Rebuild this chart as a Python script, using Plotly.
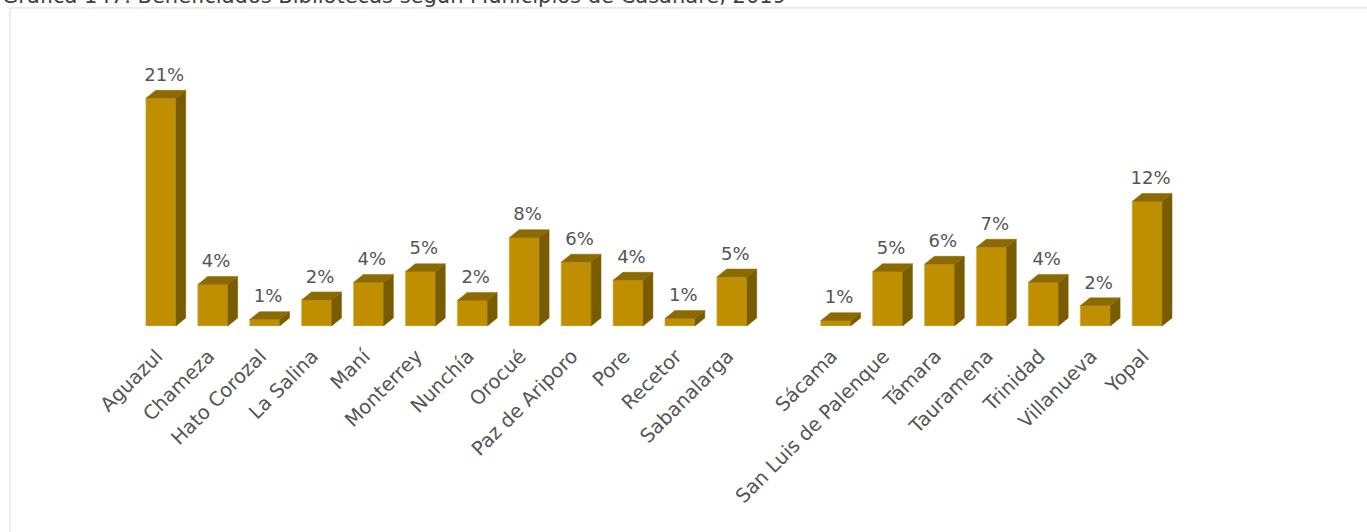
import plotly.graph_objects as go

categories = ["Aguazul", "Chameza", "Hato Corozal", "La Salina", "Maní", "Monterrey",
              "Nunchía", "Orocué", "Paz de Ariporo", "Pore", "Recetor", "Sabanalarga",
              "", "Sácama", "San Luis de Palenque", "Támara", "Tauramena", "Trinidad",
              "Villanueva", "Yopal"]
values = [21.4, 3.9, 0.6, 2.45, 4.1, 5.1, 2.4, 8.3, 6.0, 4.3, 0.7, 4.6,
          None, 0.5, 5.1, 5.8, 7.4, 4.1, 1.9, 11.7]
labels = ["21%", "4%", "1%", "2%", "4%", "5%", "2%", "8%", "6%", "4%", "1%", "5%",
          "", "1%", "5%", "6%", "7%", "4%", "2%", "12%"]
title = "Gráfica 147. Beneficiados Bibliotecas según Municipios de Casanare, 2019"

FRONT = "#BF8F00"
SIDE = "#7A5C00"
TOP = "#8C6A00"
FONT = "DejaVu Sans"
TXT = "#555555"

W = 0.578   # front face width (category units)
DX = 0.19   # depth offset x (category units)
DY = 0.75   # depth offset y (value units)

xs = list(range(len(categories)))
bx, bv = [], []
side_x, side_y, top_x, top_y = [], [], [], []
lab_x, lab_y, lab_t = [], [], []
for i, v in enumerate(values):
    if v is None:
        continue
    bx.append(i); bv.append(v)
    r = i + W / 2
    l = i - W / 2
    side_x += [r, r + DX, r + DX, r, r, None]
    side_y += [0, DY, v + DY, v, 0, None]
    top_x += [l, l + DX, r + DX, r, l, None]
    top_y += [v, v + DY, v + DY, v, v, None]
    lab_x.append(i + DX / 2 - 0.03)
    lab_y.append(v + DY + 0.45)
    lab_t.append(labels[i])

fig = go.Figure()
fig.add_trace(go.Bar(x=bx, y=bv, width=W, marker=dict(color=FRONT, line=dict(color="#D9B64A", width=0.6)),
                     hoverinfo="skip"))
fig.add_trace(go.Scatter(x=side_x, y=side_y, fill="toself", fillcolor=SIDE, mode="lines",
                         line=dict(color=SIDE, width=0.5), hoverinfo="skip"))
fig.add_trace(go.Scatter(x=top_x, y=top_y, fill="toself", fillcolor=TOP, mode="lines",
                         line=dict(color=TOP, width=0.5), hoverinfo="skip"))
fig.add_trace(go.Scatter(x=lab_x, y=lab_y, mode="text", text=lab_t, textposition="top center",
                         textfont=dict(family=FONT, size=18, color=TXT), hoverinfo="skip"))

L, T, B = 83, 60, 206.3
PW = 1367 - L - 142
PH = 532 - T - B

fig.update_layout(
    width=1367, height=532,
    margin=dict(l=L, r=142, t=T, b=B),
    paper_bgcolor="white", plot_bgcolor="white",
    showlegend=False,
    xaxis=dict(range=[-1.5, 20.5], tickmode="array", tickvals=xs, ticktext=categories,
               tickangle=-45, showgrid=False, zeroline=False, showline=False, ticks="",
               ticklabelstandoff=14, ticklabelshift=-4,
               tickfont=dict(family=FONT, size=19.5, color=TXT)),
    yaxis=dict(range=[0, 25], showgrid=False, zeroline=False, showline=False,
               showticklabels=False, ticks=""),
    shapes=[dict(type="rect", xref="paper", yref="paper",
                 x0=(10 - L) / PW, x1=1.3, y0=-1.0, y1=(532 - B - 8) / PH,
                 line=dict(color="#D9D9D9", width=1), fillcolor="rgba(0,0,0,0)", layer="below")],
    annotations=[dict(text=title, xref="paper", yref="paper", x=(0 - L) / PW, xanchor="left",
                      y=(532 - B - 10) / PH, yanchor="bottom", showarrow=False,
                      font=dict(family=FONT, size=21, color="#404040"))],
)

fig.write_html("out.html", config={"displayModeBar": False},
               post_script="document.body.style.margin='0';document.body.style.overflow='hidden';")
